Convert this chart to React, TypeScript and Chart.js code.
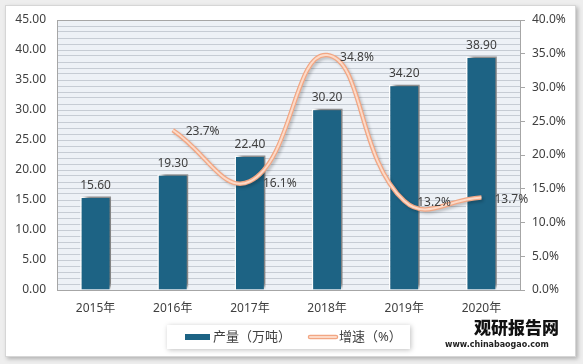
import React, { useEffect, useRef } from "react";
import { Chart, registerables } from "chart.js";
Chart.register(...registerables);

const categories = ["2015年", "2016年", "2017年", "2018年", "2019年", "2020年"];
const outputValues = [15.6, 19.3, 22.4, 30.2, 34.2, 38.9];
const growthValues: (number | null)[] = [null, 23.7, 16.1, 34.8, 13.2, 13.7];
const seriesNames = ["产量（万吨）", "增速（%）"];
const leftAxisMax = 45;
const rightAxisMax = 40;

const FONT = "'Noto Sans', 'Noto Sans CJK SC', sans-serif";
const BAR_COLOR = "#1d6384";
const LINE_OUTER = "#f2a683";
const LINE_INNER = "#fcdac8";
const TEXT = "#404040";

const plotBg = {
  id: "plotBg",
  beforeDraw(chart: any) {
    const { ctx, chartArea: a } = chart;
    ctx.save();
    ctx.fillStyle = "#edf1f6";
    ctx.fillRect(a.left, a.top, a.right - a.left, a.bottom - a.top);
    ctx.restore();
  },
};

const barShadow = {
  id: "barShadow",
  beforeDatasetDraw(chart: any, args: any) {
    const ctx = chart.ctx;
    ctx.save();
    if (args.index === 0) {
      ctx.shadowColor = "rgba(0,0,0,0.5)";
      ctx.shadowBlur = 4;
      ctx.shadowOffsetX = 4;
      ctx.shadowOffsetY = -3;
    } else if (args.index === 1) {
      ctx.shadowColor = "rgba(0,0,0,0.2)";
      ctx.shadowBlur = 3;
      ctx.shadowOffsetX = 2;
      ctx.shadowOffsetY = 2;
    }
  },
  afterDatasetDraw(chart: any) {
    chart.ctx.restore();
  },
};

const valueLabels = {
  id: "valueLabels",
  afterDatasetsDraw(chart: any) {
    const { ctx } = chart;
    ctx.save();
    ctx.font = `12px ${FONT}`;
    ctx.fillStyle = TEXT;
    const barMeta = chart.getDatasetMeta(0);
    ctx.textAlign = "center";
    ctx.textBaseline = "bottom";
    barMeta.data.forEach((el: any, i: number) => {
      ctx.fillText(outputValues[i].toFixed(2), el.x, el.y - 5);
    });
    const lineMeta = chart.getDatasetMeta(1);
    ctx.textAlign = "left";
    ctx.textBaseline = "middle";
    lineMeta.data.forEach((el: any, i: number) => {
      const v = growthValues[i];
      if (v == null) return;
      ctx.fillText(v.toFixed(1) + "%", el.x + 13, el.y + 2);
    });
    ctx.restore();
  },
};

const customLegend = {
  id: "customLegend",
  afterDraw(chart: any) {
    const { ctx, chartArea: a } = chart;
    const cx = (a.left + a.right) / 2;
    const boxW = 243;
    const boxH = 24;
    const bx = cx - boxW / 2;
    const by = a.bottom + 35;
    ctx.save();
    ctx.shadowColor = "rgba(0,0,0,0.25)";
    ctx.shadowBlur = 5;
    ctx.shadowOffsetX = 1;
    ctx.shadowOffsetY = 1;
    ctx.fillStyle = "#ffffff";
    ctx.fillRect(bx, by, boxW, boxH);
    ctx.restore();

    ctx.save();
    const my = by + boxH / 2;
    ctx.font = `13px ${FONT}`;
    ctx.fillStyle = TEXT;
    ctx.textBaseline = "middle";
    ctx.textAlign = "left";
    ctx.fillStyle = BAR_COLOR;
    ctx.fillRect(bx + 18, my - 3, 25, 6);
    ctx.fillStyle = TEXT;
    ctx.fillText(seriesNames[0], bx + 46, my);
    const lx = bx + 143;
    ctx.lineCap = "round";
    ctx.strokeStyle = LINE_OUTER;
    ctx.lineWidth = 4.5;
    ctx.beginPath();
    ctx.moveTo(lx, my);
    ctx.lineTo(lx + 26, my);
    ctx.stroke();
    ctx.strokeStyle = LINE_INNER;
    ctx.lineWidth = 2;
    ctx.beginPath();
    ctx.moveTo(lx, my);
    ctx.lineTo(lx + 26, my);
    ctx.stroke();
    ctx.fillStyle = TEXT;
    ctx.fillText(seriesNames[1], lx + 29, my);
    ctx.restore();
  },
};

export default function App() {
  const ref = useRef<HTMLCanvasElement>(null);
  useEffect(() => {
    document.body.style.margin = "0";
    const chart = new Chart(ref.current!, {
      type: "bar",
      data: {
        labels: categories,
        datasets: [
          {
            type: "bar",
            label: seriesNames[0],
            data: outputValues,
            backgroundColor: BAR_COLOR,
            borderColor: "#ffffff",
            borderWidth: 1.5,
            barPercentage: 0.4,
            categoryPercentage: 1,
            yAxisID: "y",
            order: 2,
          } as any,
          {
            type: "line",
            label: seriesNames[1],
            data: growthValues,
            borderColor: LINE_OUTER,
            borderWidth: 4.5,
            tension: 0.45,
            pointRadius: 0,
            yAxisID: "y1",
            order: 1,
          } as any,
          {
            type: "line",
            label: seriesNames[1] + "_inner",
            data: growthValues,
            borderColor: LINE_INNER,
            borderWidth: 2,
            tension: 0.45,
            pointRadius: 0,
            yAxisID: "y1",
            order: 0,
          } as any,
        ],
      },
      options: {
        animation: false,
        responsive: false,
        maintainAspectRatio: false,
        layout: { padding: { left: 7, right: 13, top: 20, bottom: 44 } },
        plugins: {
          legend: { display: false },
          tooltip: { enabled: false },
        },
        scales: {
          x: {
            grid: { display: false, drawTicks: false },
            border: { display: true, color: "#a6a6a6" },
            ticks: { color: TEXT, font: { size: 12, family: FONT }, padding: 11 },
            afterFit: (s: any) => {
              s.height = 30;
            },
          },
          y: {
            position: "left",
            min: 0,
            max: leftAxisMax,
            ticks: {
              stepSize: 1,
              autoSkip: false,
              padding: 11,
              color: TEXT,
              font: { size: 12, family: FONT },
              callback: (v: any) => (Number(v) % 5 === 0 ? Number(v).toFixed(2) : ""),
            },
            grid: {
              drawTicks: false,
              color: (c: any) => (c.tick && c.tick.value === leftAxisMax ? "#a6a6a6" : "#c6ccd4"),
              lineWidth: 1,
            },
            border: { display: true, color: "#a6a6a6" },
            afterFit: (s: any) => {
              s.width = 50;
            },
          },
          y1: {
            position: "right",
            min: 0,
            max: rightAxisMax,
            ticks: {
              stepSize: 5,
              padding: 7,
              color: TEXT,
              font: { size: 12, family: FONT },
              callback: (v: any) => Number(v).toFixed(1) + "%",
            },
            grid: { drawOnChartArea: false, drawTicks: true, tickLength: 5, color: "#a6a6a6" },
            border: { display: true, color: "#a6a6a6" },
            afterFit: (s: any) => {
              s.width = 50;
            },
          },
        },
      },
      plugins: [plotBg, barShadow, valueLabels, customLegend],
    });
    return () => chart.destroy();
  }, []);

  return (
    <div style={{ position: "relative", width: 583, height: 364, background: "#eeeeee", overflow: "hidden" }}>
      <div
        style={{
          position: "absolute",
          left: 5,
          top: 5,
          width: 569,
          height: 350,
          background: "#ffffff",
          border: "1px solid #d6d6d6",
          boxShadow: "2px 2px 4px rgba(0,0,0,0.25)",
        }}
      />
      <canvas ref={ref} width={583} height={364} style={{ position: "absolute", left: 0, top: 0 }} />
      <div
        style={{
          position: "absolute",
          left: 474,
          top: 317,
          fontFamily: "'Noto Sans CJK SC', sans-serif",
          fontWeight: 900,
          fontSize: 17,
          color: "#111",
          lineHeight: "20px",
          whiteSpace: "nowrap",
        }}
      >
        观研报告网
      </div>
      <div
        style={{
          position: "absolute",
          left: 445,
          top: 340,
          fontFamily: "'DejaVu Sans', sans-serif",
          fontWeight: 700,
          fontSize: 8,
          color: "#222",
          whiteSpace: "nowrap",
        }}
      >
        www.chinabaogao.com
      </div>
    </div>
  );
}
